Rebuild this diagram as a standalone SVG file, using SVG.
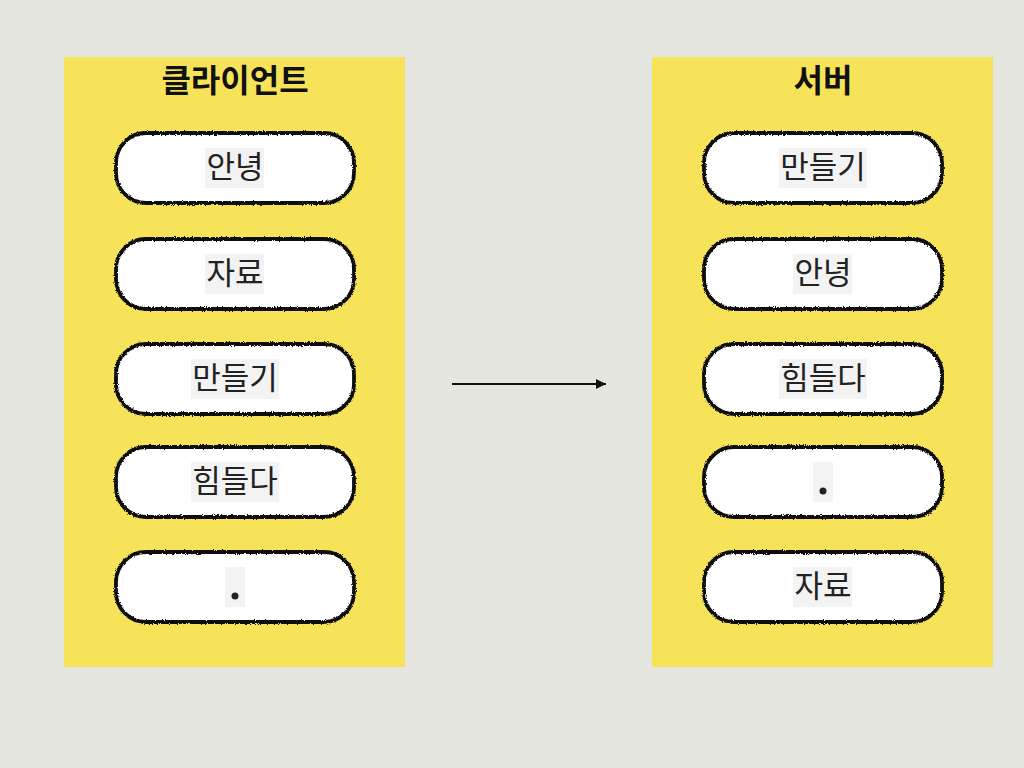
<svg xmlns="http://www.w3.org/2000/svg" width="1024" height="768" viewBox="0 0 1024 768">
<style>
.panel{fill:#f7e35a}
.fill{fill:#ffffff}
.edge{fill:none;stroke:#111;stroke-width:3.8;filter:url(#rough)}
.tbg{fill:#f3f3f3}
.lbl{font-family:"Noto Sans CJK KR","Noto Sans",sans-serif;font-size:31px;fill:#222;text-anchor:middle}
.title{font-family:"Noto Sans CJK KR","Noto Sans",sans-serif;font-size:32px;font-weight:bold;fill:#111;text-anchor:middle}
.conn{stroke:#111;stroke-width:2;fill:none}
</style>
<defs>
<filter id="rough" x="-5%" y="-10%" width="110%" height="120%">
<feTurbulence type="fractalNoise" baseFrequency="0.9" numOctaves="2" seed="3" result="n"/>
<feDisplacementMap in="SourceGraphic" in2="n" scale="3" xChannelSelector="R" yChannelSelector="G"/>
</filter>
<marker id="arr" viewBox="0 0 10 10" refX="10" refY="5" markerWidth="10" markerHeight="10" markerUnits="userSpaceOnUse" orient="auto">
<path d="M0,0 L10,5 L0,10 Z" fill="#111"/>
</marker>
</defs>
<rect width="1024" height="768" fill="#e6e6e1"/>
<g id="client">
<rect class="panel" x="64" y="57" width="341" height="610"/>
<text class="title" x="235" y="92">클라이언트</text>
</g>
<g id="server">
<rect class="panel" x="652" y="57" width="341" height="610"/>
<text class="title" x="823" y="92">서버</text>
</g>
<g id="c1"><rect class="fill" x="116" y="133" width="238" height="70" rx="30"/><rect class="edge" x="116" y="133" width="238" height="70" rx="30"/><rect class="tbg" x="205" y="148" width="59" height="40"/><text class="lbl" x="235" y="178">안녕</text></g>
<g id="c2"><rect class="fill" x="116" y="239" width="238" height="70" rx="30"/><rect class="edge" x="116" y="239" width="238" height="70" rx="30"/><rect class="tbg" x="205" y="254" width="59" height="40"/><text class="lbl" x="235" y="284">자료</text></g>
<g id="c3"><rect class="fill" x="116" y="344" width="238" height="70" rx="30"/><rect class="edge" x="116" y="344" width="238" height="70" rx="30"/><rect class="tbg" x="191" y="359" width="88" height="40"/><text class="lbl" x="235" y="389">만들기</text></g>
<g id="c4"><rect class="fill" x="116" y="447" width="238" height="70" rx="30"/><rect class="edge" x="116" y="447" width="238" height="70" rx="30"/><rect class="tbg" x="191" y="462" width="88" height="40"/><text class="lbl" x="235" y="492">힘들다</text></g>
<g id="c5"><rect class="fill" x="116" y="552" width="238" height="70" rx="30"/><rect class="edge" x="116" y="552" width="238" height="70" rx="30"/><rect class="tbg" x="225" y="567" width="20" height="40"/><circle cx="235" cy="596" r="3.5" fill="#222"/></g>
<g id="s1"><rect class="fill" x="704" y="133" width="238" height="70" rx="30"/><rect class="edge" x="704" y="133" width="238" height="70" rx="30"/><rect class="tbg" x="779" y="148" width="88" height="40"/><text class="lbl" x="823" y="178">만들기</text></g>
<g id="s2"><rect class="fill" x="704" y="239" width="238" height="70" rx="30"/><rect class="edge" x="704" y="239" width="238" height="70" rx="30"/><rect class="tbg" x="793" y="254" width="59" height="40"/><text class="lbl" x="823" y="284">안녕</text></g>
<g id="s3"><rect class="fill" x="704" y="344" width="238" height="70" rx="30"/><rect class="edge" x="704" y="344" width="238" height="70" rx="30"/><rect class="tbg" x="779" y="359" width="88" height="40"/><text class="lbl" x="823" y="389">힘들다</text></g>
<g id="s4"><rect class="fill" x="704" y="447" width="238" height="70" rx="30"/><rect class="edge" x="704" y="447" width="238" height="70" rx="30"/><rect class="tbg" x="813" y="462" width="20" height="40"/><circle cx="823" cy="491" r="3.5" fill="#222"/></g>
<g id="s5"><rect class="fill" x="704" y="552" width="238" height="70" rx="30"/><rect class="edge" x="704" y="552" width="238" height="70" rx="30"/><rect class="tbg" x="793" y="567" width="59" height="40"/><text class="lbl" x="823" y="597">자료</text></g>
<g id="connectors">
<line class="conn" x1="452" y1="384" x2="606" y2="384" marker-end="url(#arr)"/>
</g>
</svg>
